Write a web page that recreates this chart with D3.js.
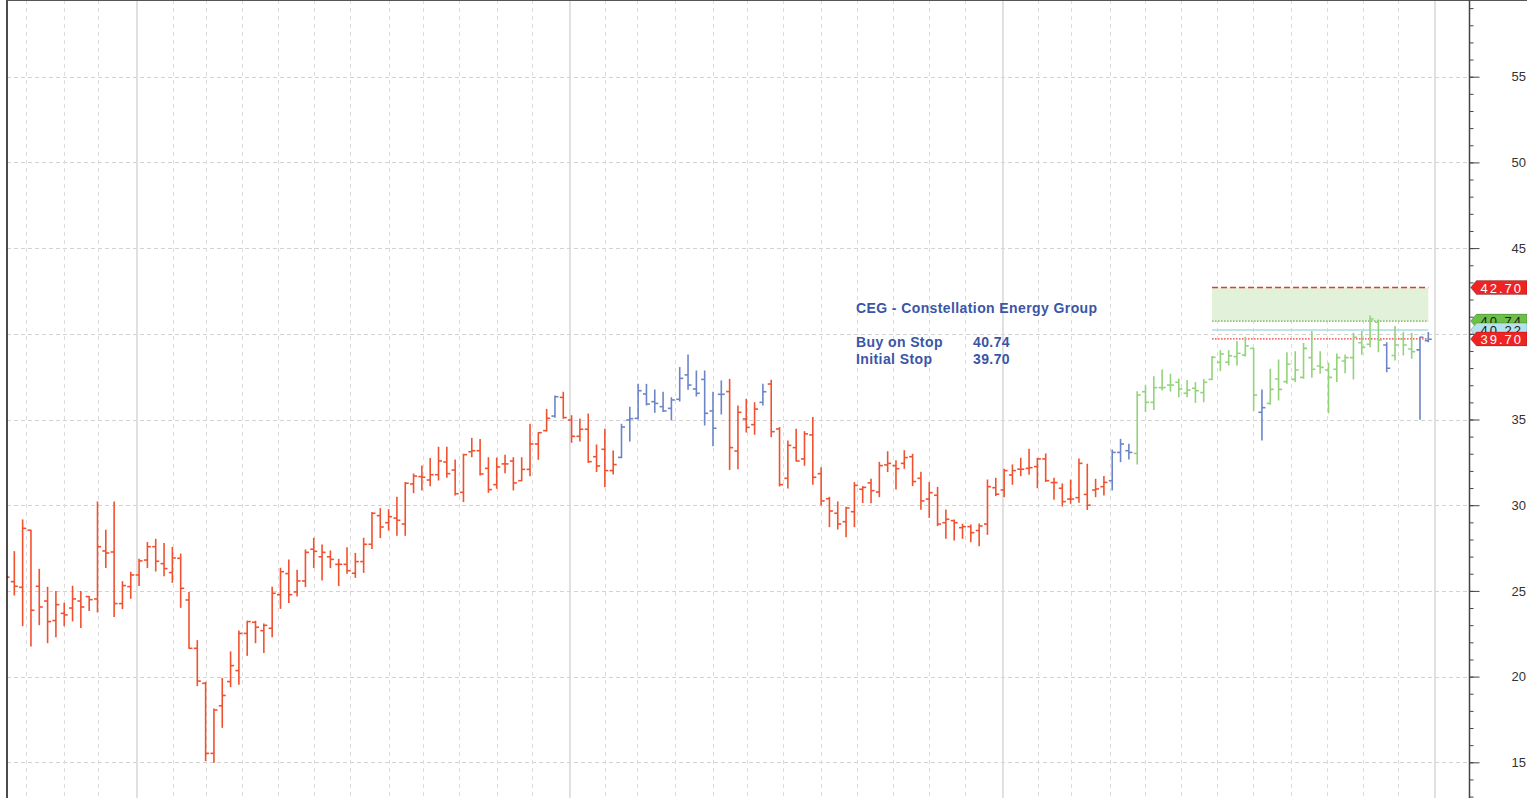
<!DOCTYPE html>
<html><head><meta charset="utf-8">
<script src="https://cdn.jsdelivr.net/npm/d3@7"></script>
<style>body{margin:0;background:#fff;overflow:hidden} svg{display:block}</style>
</head><body><svg id="c" width="1527" height="798"></svg>
<script>
// ---- DATA ----
const opens = [25.6,25.54,25.21,28.54,25.27,24.41,23.27,23.69,24.00,24.41,24.67,24.53,27.33,27.27,24.26,25.25,25.93,26.80,27.58,26.59,
26.07,26.90,24.47,21.65,19.61,15.52,18.30,19.71,20.35,22.52,23.17,22.68,22.82,24.78,26.01,24.94,25.58,27.43,26.99,26.99,
26.55,26.55,26.03,26.71,27.72,29.39,28.98,29.25,28.90,31.24,31.67,31.47,31.78,32.52,32.05,30.75,33.12,33.18,32.15,31.20,
32.41,32.58,31.43,32.09,33.57,34.35,35.20,36.29,34.97,34.02,34.43,32.83,33.26,32.02,32.79,34.97,35.07,36.49,36.04,35.75,
35.65,36.18,37.60,36.78,37.34,35.50,36.47,36.63,33.16,35.03,34.70,36.00,37.07,34.45,31.57,33.36,32.70,34.10,31.84,30.38,
29.53,29.04,29.62,30.93,31.30,30.77,32.35,32.31,32.44,32.83,31.57,30.36,30.58,28.98,29.10,28.69,28.75,28.52,28.90,31.02,
30.89,31.76,32.10,32.15,32.25,32.70,31.32,30.99,30.36,30.44,30.63,30.89,31.08,31.43,33.08,33.18,33.02,36.62,36.00,36.86,
37.01,37.17,36.53,36.82,36.57,37.34,38.34,38.34,38.67,38.76,39.15,35.42,35.94,37.36,37.21,37.34,37.46,38.61,38.12,37.89,
37.93,38.41,38.61,39.48,39.39,40.67,39.35,38.73,39.70,39.11,39.06,39.60];
const highs = [26.4,27.29,29.14,28.54,26.26,25.21,24.96,24.28,25.27,24.96,24.67,30.19,28.54,30.19,25.54,26.09,26.84,27.82,28.01,27.76,
27.54,27.15,24.90,22.10,19.67,18.11,19.90,21.44,22.66,23.23,23.23,23.07,25.21,26.32,26.80,26.20,27.39,28.07,27.68,27.33,
26.84,27.52,27.19,28.07,29.58,29.80,29.74,30.46,31.32,31.82,32.29,32.72,33.38,33.38,32.64,32.97,33.90,33.84,32.77,32.75,
32.91,32.77,32.77,34.72,34.23,35.59,36.37,36.59,35.22,35.03,35.32,33.51,34.43,33.16,34.72,35.71,37.05,37.05,36.72,36.59,
36.27,38.03,38.76,37.83,37.83,36.59,37.25,37.34,35.79,36.18,35.98,37.05,37.29,34.53,33.75,34.43,34.29,35.11,32.19,30.46,
30.19,29.88,31.32,31.08,31.51,32.50,33.12,32.60,33.18,32.97,31.92,31.32,31.04,29.72,29.14,28.89,28.85,28.90,31.47,31.57,
32.10,32.35,32.74,33.26,32.74,32.99,31.57,31.24,31.47,32.70,32.39,31.51,31.67,33.22,33.84,33.55,36.62,36.97,37.50,37.89,
37.64,37.36,37.27,37.15,37.34,38.67,39.02,39.02,39.54,39.80,39.15,36.72,37.93,38.47,38.90,38.96,39.44,40.13,38.96,38.28,
38.82,38.76,40.03,40.13,41.04,40.81,39.48,40.42,40.09,40.03,39.80,40.07];
const lows = [25.2,24.76,22.97,21.79,23.03,21.98,22.33,22.97,23.25,22.86,23.85,23.77,26.36,23.50,23.97,24.57,25.31,26.36,26.16,25.89,
25.50,24.04,21.65,19.47,15.10,15.00,17.04,19.41,19.55,21.24,21.98,21.40,22.33,23.98,24.32,24.70,25.25,26.36,25.64,26.36,
25.31,26.03,25.79,26.08,27.48,28.11,28.55,28.24,28.24,30.73,30.89,31.14,31.47,31.63,30.60,30.21,32.83,31.76,30.75,30.99,
31.90,30.89,31.43,31.72,32.68,34.33,35.13,35.07,33.67,33.75,32.50,31.96,31.08,31.82,32.77,33.75,35.03,35.85,35.42,35.46,
34.97,36.08,36.76,36.37,34.68,33.47,35.32,32.09,32.13,34.27,34.14,35.85,34.00,31.12,31.00,32.58,32.33,31.22,30.01,28.75,
28.61,28.16,28.75,30.15,30.15,30.50,31.96,30.95,32.15,31.14,29.76,29.29,28.81,28.07,27.97,28.07,27.87,27.64,28.30,30.56,
30.50,31.22,31.72,31.80,31.02,31.38,30.34,29.95,30.11,30.17,29.75,30.50,30.60,30.89,32.54,32.69,32.40,35.46,35.59,36.72,
36.66,36.33,36.33,36.00,36.04,37.34,37.85,38.18,38.18,38.70,35.52,33.80,35.89,36.14,37.11,37.21,37.40,37.46,37.70,35.40,
37.21,37.73,37.36,38.80,39.25,38.96,37.79,38.47,38.76,38.57,35.01,39.54];
const closes = [25.8,25.27,28.65,23.87,24.06,23.21,24.20,23.60,24.53,24.06,24.49,27.58,27.21,24.26,25.31,25.93,26.75,27.58,26.73,26.30,
26.92,25.15,21.65,19.74,15.52,18.05,18.90,20.64,22.52,23.21,22.88,22.99,24.86,26.12,24.78,25.58,27.25,27.31,27.25,26.84,
26.55,26.18,26.71,27.72,29.53,28.73,29.33,29.12,31.28,31.70,31.63,31.78,32.58,31.84,30.67,32.95,33.18,31.82,30.91,32.23,
32.41,31.30,32.09,33.57,34.23,35.07,36.33,35.11,34.02,34.43,32.54,32.29,32.02,32.37,34.56,35.05,36.68,35.90,35.94,35.50,
36.14,37.40,37.01,36.53,35.36,34.49,36.47,33.36,35.42,34.54,35.61,36.62,34.29,31.20,33.49,32.58,34.16,31.63,30.25,29.66,
28.90,29.84,31.16,31.04,30.85,32.31,32.44,32.13,32.78,31.38,30.25,30.73,28.90,29.18,28.98,28.75,28.40,28.79,31.08,30.64,
32.02,32.02,32.10,32.19,32.70,31.43,31.32,30.21,30.36,32.44,30.00,30.95,31.33,33.08,33.57,33.08,36.43,36.00,36.86,36.86,
37.01,36.78,36.72,36.68,37.17,38.63,38.82,38.72,38.86,39.30,36.43,35.69,36.76,36.76,38.22,37.89,39.15,37.93,38.04,37.46,
38.61,38.61,39.80,39.21,40.86,39.64,37.99,39.35,39.35,38.96,39.80,39.68];
// trend state per bar as runs: r = red, b = blue, g = green
const trendRuns = [["r",66],["b",1],["r",7],["b",13],["r",4],["b",1],["r",41],["b",3],["g",15],["b",1],["g",14],["b",1],["g",3],["b",2]];
// vertical grid positions in bar-index units
const weekGridIdx = [2.40,6.97,11.06,20.04,24.0,28.34,32.74,36.99,41.39,46.04,50.1,54.5,59.0,63.2,71.98,75.9,80.46,85.0,89.05,93.45,97.94,102.3,106.6,110.96,115.3,124.03,128.0,132.7,136.9,141.3,145.6,149.9,154.45,158.85,163.1,167.4];
const quarterGridIdx = [15.75,67.8,119.86,171.8];
const yMajorTicks = [15,20,25,30,35,40,45,50,55];
const yLabelTicks = [15,20,25,30,35,45,50,55];
const levelValues = [42.70, 40.74, 40.22, 39.70];
const levelLabels = ["42.70","40.74","40.22","39.70"];
const levelKinds = ["target","buy","mid","stop"];
const zoneRange = [145, 171];
const titleText = "CEG - Constellation Energy Group";
const infoLabels = ["Buy on Stop","Initial Stop"];
const infoValues = ["40.74","39.70"];

// ---- expand ----
const trend = [];
trendRuns.forEach(([k,n]) => { for (let j=0;j<n;j++) trend.push(k); });
const bars = opens.map((o,i)=>({i, o, h:highs[i], l:lows[i], c:closes[i], t:trend[i]}));

// ---- chart ----
const W = 1527, H = 798;
const plotL = 7, plotR = 1469.5;
const svg = d3.select("#c");
const x = d3.scaleLinear().domain([0, opens.length-1]).range([6, 1428.3]);
const y = d3.scaleLinear().domain([15, 55]).range([762.3, 76.7]);

const colors = {r:"#f1512e", b:"#6c85c8", g:"#93d37a"};
const font = "Arial, 'Liberation Sans', sans-serif";

svg.append("defs").append("clipPath").attr("id","clip")
  .append("rect").attr("x",plotL).attr("y",0).attr("width",plotR-plotL).attr("height",H);

const grid = svg.append("g").attr("clip-path","url(#clip)");
// horizontal grid
grid.selectAll("line.hg").data(yMajorTicks).join("line")
  .attr("x1",plotL).attr("x2",plotR).attr("y1",d=>Math.round(y(d))+0.5).attr("y2",d=>Math.round(y(d))+0.5)
  .attr("stroke","#d2d2d2").attr("stroke-dasharray","4,3").attr("stroke-width",1);
// vertical grid
grid.selectAll("line.vg").data(weekGridIdx).join("line")
  .attr("x1",d=>Math.round(x(d))+0.5).attr("x2",d=>Math.round(x(d))+0.5).attr("y1",0).attr("y2",H)
  .attr("stroke","#dcdcdc").attr("stroke-dasharray","4,4").attr("stroke-width",1);
grid.selectAll("line.qg").data(quarterGridIdx).join("line")
  .attr("x1",d=>x(d)).attr("x2",d=>x(d)).attr("y1",0).attr("y2",H)
  .attr("stroke","#d9d9d9").attr("stroke-width",1.6);

// zone + level lines
const zx0 = x(zoneRange[0]), zx1 = x(zoneRange[1]);
const zone = svg.append("g").attr("clip-path","url(#clip)");
zone.append("rect").attr("x",zx0).attr("width",zx1-zx0)
  .attr("y",y(levelValues[0])).attr("height",y(levelValues[1])-y(levelValues[0]))
  .attr("fill","#e2f1d9");
const lineStyle = {
  target:{stroke:"#e03a3a", dash:"6,3", w:1.3},
  buy:{stroke:"#6aa84f", dash:"1.5,1.5", w:1.2},
  mid:{stroke:"#a8dbe6", dash:null, w:1.5},
  stop:{stroke:"#ee3333", dash:"1.5,1.5", w:1.2}
};
levelValues.forEach((v,k)=>{
  const s = lineStyle[levelKinds[k]];
  zone.append("line").attr("x1",zx0).attr("x2",zx1).attr("y1",y(v)).attr("y2",y(v))
    .attr("stroke",s.stroke).attr("stroke-width",s.w).attr("stroke-dasharray",s.dash);
});

// OHLC bars
const gb = svg.append("g").attr("clip-path","url(#clip)");
const tick = 3.5;
const bg = gb.selectAll("g.bar").data(bars).join("g").attr("stroke",d=>colors[d.t]).attr("stroke-width",1.6);
bg.append("line").attr("x1",d=>x(d.i)).attr("x2",d=>x(d.i)).attr("y1",d=>y(d.h)-0.5).attr("y2",d=>y(d.l)+0.5);
bg.append("line").attr("x1",d=>x(d.i)-tick).attr("x2",d=>x(d.i)).attr("y1",d=>y(d.o)).attr("y2",d=>y(d.o));
bg.append("line").attr("x1",d=>x(d.i)).attr("x2",d=>x(d.i)+tick).attr("y1",d=>y(d.c)).attr("y2",d=>y(d.c));

// frame
svg.append("line").attr("x1",plotL).attr("x2",plotL).attr("y1",0).attr("y2",H).attr("stroke","#111").attr("stroke-width",1.5);
svg.append("line").attr("x1",plotL).attr("x2",W).attr("y1",0.5).attr("y2",0.5).attr("stroke","#555").attr("stroke-width",1);

// right axis
const ax = svg.append("g").attr("transform",`translate(${plotR},0)`);
ax.append("line").attr("x1",0).attr("x2",0).attr("y1",0).attr("y2",H).attr("stroke","#444").attr("stroke-width",1.5);
const minor = ax.append("g").call(d3.axisRight(y).tickValues(d3.range(13,60,1)).tickSize(4).tickFormat(""));
minor.select(".domain").remove();
minor.selectAll("line").attr("stroke","#444");
const major = ax.append("g").call(d3.axisRight(y).tickValues(yMajorTicks).tickSize(10).tickPadding(32).tickFormat(d=>yLabelTicks.includes(d)?d3.format("d")(d):""));
major.select(".domain").remove();
major.selectAll("line").attr("stroke","#444");
major.selectAll("text").attr("font-family",font).attr("font-size",13).attr("fill","#333");

// flags on axis (drawn in order so that lower flags overlap upper ones, as in the reference)
const flagStyle = {
  target:{fill:"#ee2424", text:"#fff"},
  buy:{fill:"#6cbf48", text:"#1a1a1a"},
  stop:{fill:"#ee2424", text:"#fff"},
  mid:{fill:"#b4e1ec", text:"#1a1a1a"}
};
levelValues.forEach((v,k)=>{
  const s = flagStyle[levelKinds[k]];
  const yy = y(v);
  const g = svg.append("g");
  g.append("path").attr("d",`M${plotR+1},${yy} L${plotR+7},${yy-7} L${W},${yy-7} L${W},${yy+7} L${plotR+7},${yy+7} Z`)
    .attr("fill",s.fill).attr("stroke","rgba(0,0,0,0.25)").attr("stroke-width",0.8);
  g.append("text").attr("x",plotR+11).attr("y",yy+5).text(levelLabels[k])
    .attr("font-family",font).attr("font-size",13).attr("letter-spacing","2px").attr("fill",s.text);
});

// annotation
const ann = svg.append("g").attr("font-family",font).attr("font-weight","bold").attr("font-size",14)
  .attr("fill","#3b55a6").attr("letter-spacing","0.4px");
ann.append("text").attr("x",856).attr("y",313).text(titleText);
infoLabels.forEach((t,k)=>{
  ann.append("text").attr("x",856).attr("y",347+k*17).text(t);
  ann.append("text").attr("x",973).attr("y",347+k*17).text(infoValues[k]);
});
</script></body></html>
